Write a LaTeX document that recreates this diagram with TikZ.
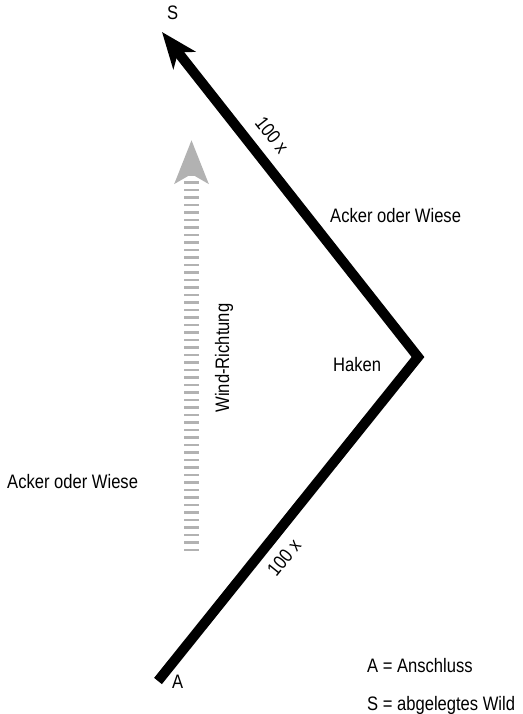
\documentclass[tikz,border=0pt]{standalone}
\usepackage{fontspec}
\setmainfont{Liberation Sans}[FakeStretch=0.85]
\usetikzlibrary{arrows.meta}
\tikzset{>=stealth}
\tikzset{lbl/.style={font=\fontsize{19.5}{21}\selectfont, inner sep=0pt}}

\begin{document}
\begin{tikzpicture}[x=1pt,y=1pt]
\useasboundingbox (0,0) rectangle (522,-714);
\coordinate (A) at (158,-681);
\coordinate (H) at (418,-357);
\coordinate (S) at (162,-32);
\coordinate (w1) at (191.5,-551);
\coordinate (w2) at (191.5,-140);
% wind arrow
\draw[-{Stealth[length=43pt,width=33pt,inset=9pt]}, gray!60, line width=15pt, dash pattern=on 2.5pt off 5pt] (w1) -- (w2);
% path
\draw[-{Stealth[length=36pt,width=28pt,inset=10pt]}, line width=10pt] (A) -- (H) -- (S);
\node[lbl, anchor=base west] (tS) at (167,-20) {S};
\node[lbl, anchor=base west] (tA) at (172,-688) {A};
\node[lbl, anchor=base west] (haken) at (333,-371) {Haken};
\node[lbl, anchor=base west] (feld1) at (330,-222) {Acker oder Wiese};
\node[lbl, anchor=base west] (feld2) at (7,-488) {Acker oder Wiese};
\node[lbl, rotate=90] (wind) at (224,-358) {Wind-Richtung};
\node[lbl, rotate=-52] (n1) at (272,-135) {100 x};
\node[lbl, rotate=51] (n2) at (284,-558) {100 x};
\node[lbl, anchor=base west] (leg1) at (367,-672) {A = Anschluss};
\node[lbl, anchor=base west] (leg2) at (367,-710) {S = abgelegtes Wild};
\end{tikzpicture}
\end{document}
